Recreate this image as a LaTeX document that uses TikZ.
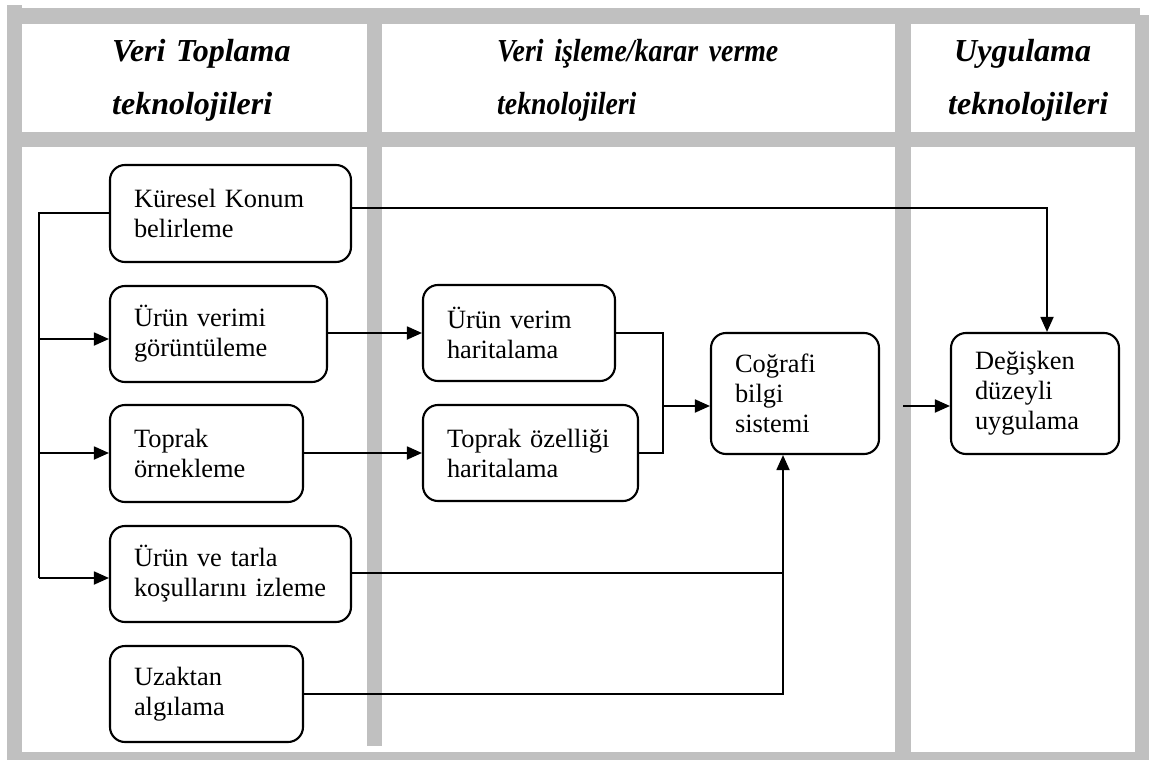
\documentclass[tikz,border=0pt]{standalone}
\usepackage{fontspec}
\setmainfont{Liberation Serif}
\newfontfamily\condserif[FakeStretch=0.87]{Liberation Serif}
\usetikzlibrary{arrows.meta}
\definecolor{barcol}{HTML}{C0C0C0}
\begin{document}
\begin{tikzpicture}[x=1pt,y=-1pt,
  box/.style={draw, line width=2.1pt, rounded corners=15pt, inner xsep=24pt, inner ysep=0pt,
    align=left, font=\fontsize{26.4}{30}\selectfont},
  head/.style={anchor=base west, align=left, text width=#1, inner sep=0pt,
    font=\fontsize{32}{53}\selectfont\bfseries\itshape},
  conn/.style={line width=1.8pt},
  arr/.style={conn, -{Triangle[length=15pt,width=13pt]}},
  bar/.style={fill=barcol}]
\useasboundingbox (0,0) rectangle (1149,760);
% gray table frame
\fill[bar] (7,5) rectangle (22,760);
\fill[bar] (7,8) rectangle (1140,24);
\fill[bar] (1135,15) rectangle (1149,760);
\fill[bar] (7,132) rectangle (1149,147);
\fill[bar] (367,8) rectangle (382,746);
\fill[bar] (895,8) rectangle (911,760);
\fill[bar] (7,752) rectangle (1149,760);
% headers
\node[head=250pt] (h1) at (112,62) {Veri Toplama\\teknolojileri};
\node[head=380pt, font=\condserif\fontsize{32}{53}\selectfont\bfseries\itshape] (h2) at (497,62) {Veri işleme/karar verme\\teknolojileri};
\node[head=200pt] (h3) at (948,62) {\hspace*{6pt}Uygulama\\teknolojileri};
% boxes
\node[box, minimum height=97pt, text width=193pt] (kuresel) at (230.5,213.5) {Küresel Konum\\belirleme};
\node[box, minimum height=96pt, text width=169pt] (urunverimi) at (218.5,334) {Ürün verimi\\görüntüleme};
\node[box, minimum height=97pt, text width=145pt] (toprak) at (206.5,453.5) {Toprak\\örnekleme};
\node[box, minimum height=96pt, text width=193pt] (urunvetarla) at (230.5,574) {Ürün ve tarla\\koşullarını izleme};
\node[box, minimum height=96pt, text width=145pt] (uzaktan) at (206.5,694) {Uzaktan\\algılama};
\node[box, minimum height=96pt, text width=144pt] (verimhar) at (519,333) {Ürün verim\\haritalama};
\node[box, minimum height=96pt, text width=167pt] (toprakoz) at (530.5,453) {Toprak özelliği\\haritalama};
\node[box, minimum height=121pt, text width=120pt] (cbs) at (795,393.5) {Coğrafi\\bilgi\\sistemi};
\node[box, minimum height=121pt, text width=120pt] (degisken) at (1035,393.5) {Değişken\\düzeyli\\uygulama};
% trunk on the left
\coordinate (t0) at (39,213);
\coordinate (t1) at (39,339);
\coordinate (t2) at (39,453);
\coordinate (t3) at (39,578);
\draw[conn] (kuresel.west |- t0) -- (t0) -- (t3);
\draw[arr] (t1) -- (urunverimi.west |- t1);
\draw[arr] (t2) -- (toprak.west |- t2);
\draw[arr] (t3) -- (urunvetarla.west |- t3);
% GPS to variable rate application
\coordinate (k1) at (1047,208);
\draw[arr] (kuresel.east |- k1) -- (k1) -- (degisken.north -| k1);
% mapping
\draw[arr] (urunverimi.east |- verimhar.west) -- (verimhar.west);
\draw[arr] (toprak.east |- toprakoz.west) -- (toprakoz.west);
\coordinate (j) at (663,406);
\draw[conn] (verimhar.east) -| (j |- toprakoz.east) -- (toprakoz.east);
\draw[arr] (j) -- (cbs.west |- j);
% monitoring and remote sensing to GIS
\coordinate (m) at (783,573);
\draw[conn] (urunvetarla.east |- m) -- (m);
\draw[arr] (uzaktan.east) -| (cbs.south -| m);
% GIS to application
\coordinate (d0) at (903,406);
\draw[arr] (d0) -- (degisken.west |- d0);
\end{tikzpicture}
\end{document}
